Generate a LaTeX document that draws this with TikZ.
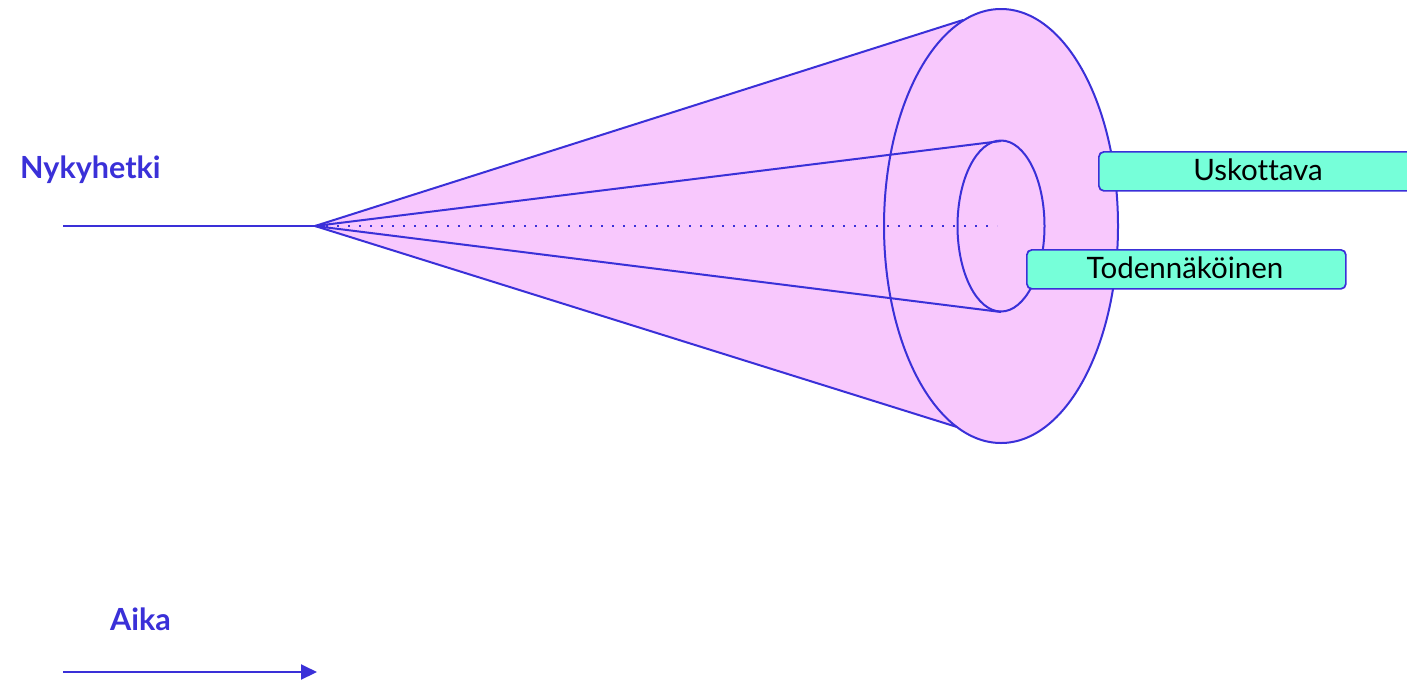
\documentclass[tikz,border=0pt]{standalone}
\usepackage{fontspec}
\setmainfont{Lato}[Ligatures={NoCommon}]
\usetikzlibrary{arrows.meta}
\definecolor{ink}{HTML}{3A30D8}
\definecolor{pinkfill}{HTML}{F8C8FD}
\definecolor{mint}{HTML}{76FFD9}
\tikzset{
  edge/.style={draw=ink, line width=2pt},
  tag/.style={draw=ink, line width=1.7pt, fill=mint, rounded corners=5pt, inner sep=0pt, anchor=north west},
  tagtext/.style={font=\fontsize{29.5}{32}\selectfont, text=black, inner sep=0pt},
  title/.style={font=\fontsize{30.5}{33}\selectfont\bfseries, text=ink, anchor=west, inner sep=0pt}
}
\begin{document}
\begin{tikzpicture}[x=1pt,y=-1pt]
\useasboundingbox (0,0) rectangle (1407,681);
\clip (0,0) rectangle (1407,681);
% coordinates
\coordinate (apex) at (315,226);
\coordinate (c) at (1001,226);
\coordinate (ot) at (963,20);
\coordinate (ob) at (957,427);
\coordinate (it) at (1001,141);
\coordinate (ib) at (1001,312);
\coordinate (left) at (63,226);
\coordinate (dotend) at (997,226);
% fill
\fill[pinkfill] (apex) -- (ot) -- (ob) -- cycle;
\fill[pinkfill] (c) ellipse [x radius=117, y radius=217];
% outlines
\draw[edge] (c) ellipse [x radius=117, y radius=217];
\draw[edge] (apex) -- (ot);
\draw[edge] (apex) -- (ob);
\draw[edge] (c) ellipse [x radius=43.5, y radius=85.5];
\draw[edge] (apex) -- (it);
\draw[edge] (apex) -- (ib);
\draw[ink, line width=1.7pt, dash pattern=on 1.7pt off 9.3pt] (apex) -- (dotend);
\draw[edge] (left) -- (apex);
% labels
\node[title] (now) at (20,170) {Nykyhetki};
\node[title] (time) at (110,619) {Aika};
\coordinate (a0) at (63,672);
\coordinate (a1) at (317,672);
\draw[edge, -{Triangle[length=16pt,width=15pt]}] (a0) -- (a1);
% tags
\node[tag, minimum width=330pt, minimum height=39pt] (usk) at (1098,151) {};
\node[tagtext] (uskt) at (1258,170) {Uskottava};
\node[tag, minimum width=319pt, minimum height=39pt] (tod) at (1026,249) {};
\node[tagtext] (todt) at (1185,268) {Todennäköinen};
\end{tikzpicture}
\end{document}
